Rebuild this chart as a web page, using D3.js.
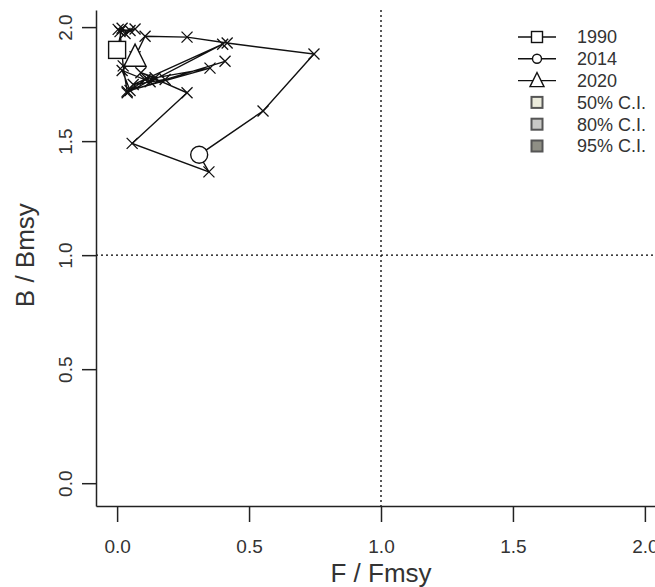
<!DOCTYPE html>
<html>
<head>
<meta charset="utf-8">
<script src="https://cdn.jsdelivr.net/npm/d3@7"></script>
<style>
  html, body { margin: 0; padding: 0; background: #fff; }
  svg { display: block; font-family: "Liberation Sans", Arial, sans-serif; }
</style>
</head>
<body>
<svg id="chart" width="655" height="587"></svg>
<script>
// ---- data ----
const years = [1990,1991,1992,1993,1994,1995,1996,1997,1998,1999,2000,2001,2002,2003,2004,2005,2006,2007,2008,2009,2010,2011,2012,2013,2014,2015,2016,2017,2018,2019,2020];
const fRatio = [0.000,0.019,0.004,0.049,0.030,0.068,0.011,0.023,0.038,0.409,0.182,0.061,0.400,0.125,0.019,0.049,0.352,0.106,0.038,0.144,0.090,0.265,0.057,0.348,0.311,0.553,0.746,0.417,0.265,0.106,0.068];
const bRatio = [1.900,1.995,1.990,1.985,1.972,1.992,1.980,1.830,1.718,1.850,1.770,1.748,1.925,1.760,1.810,1.722,1.820,1.770,1.712,1.778,1.800,1.712,1.490,1.365,1.440,1.632,1.882,1.930,1.956,1.960,1.870];
const xTicks = [0, 0.5, 1, 1.5, 2];
const yTicks = [0, 0.5, 1, 1.5, 2];
const tickLabels = ["0.0", "0.5", "1.0", "1.5", "2.0"];
const legendYears = ["1990", "2014", "2020"];
const legendCI = ["50% C.I.", "80% C.I.", "95% C.I."];
const ciColors = ["#ebebdc", "#c9c9c6", "#8f8f85"];
const refLine = 1;

// ---- scales ----
const svg = d3.select("#chart");
const x = d3.scaleLinear().domain([-0.08, 2.08]).range([96, 666]);
const y = d3.scaleLinear().domain([-0.1, 2.075]).range([506, 10]);

// reference dotted lines
svg.append("line")
  .attr("x1", x(refLine)).attr("x2", x(refLine))
  .attr("y1", y.range()[1]).attr("y2", y.range()[0])
  .attr("stroke", "#000").attr("stroke-width", 1.3).attr("stroke-dasharray", "2,3");
svg.append("line")
  .attr("x1", x.range()[0]).attr("x2", 655)
  .attr("y1", y(refLine)).attr("y2", y(refLine))
  .attr("stroke", "#000").attr("stroke-width", 1.3).attr("stroke-dasharray", "2,3");

// axes
const xAxis = d3.axisBottom(x).tickValues(xTicks).tickSizeInner(16).tickSizeOuter(0)
  .tickPadding(18).tickFormat((d, i) => tickLabels[i]);
const gx = svg.append("g").attr("transform", `translate(0,${y.range()[0]})`).call(xAxis);
gx.select(".domain").attr("stroke", "#222").attr("stroke-width", 1.5);
gx.selectAll(".tick line").attr("stroke", "#222").attr("stroke-width", 1.5);
gx.selectAll(".tick text").attr("font-size", 19).attr("fill", "#333")
  .attr("font-family", "Liberation Sans, Arial, sans-serif");

const yAxis = d3.axisLeft(y).tickValues(yTicks).tickSizeInner(14).tickSizeOuter(0)
  .tickFormat((d, i) => tickLabels[i]);
const gy = svg.append("g").attr("transform", `translate(${x.range()[0]},0)`).call(yAxis);
gy.select(".domain").attr("stroke", "#222").attr("stroke-width", 1.5);
gy.selectAll(".tick line").attr("stroke", "#222").attr("stroke-width", 1.5);
gy.selectAll(".tick text")
  .attr("font-size", 19).attr("fill", "#333")
  .attr("font-family", "Liberation Sans, Arial, sans-serif")
  .attr("text-anchor", "middle").attr("x", null)
  .attr("transform", "translate(-31,0) rotate(-90)")
  .attr("dy", "0.35em");

// axis titles
svg.append("text").attr("x", x(1)).attr("y", 582).attr("text-anchor", "middle")
  .attr("font-size", 26).attr("fill", "#333").text("F / Fmsy");
svg.append("text").attr("transform", `translate(34,${y(1)}) rotate(-90)`).attr("text-anchor", "middle")
  .attr("font-size", 26).attr("fill", "#333").text("B / Bmsy");

// trajectory
const pts = years.map((yr, i) => ({ year: yr, f: fRatio[i], b: bRatio[i] }));
svg.append("path").datum(pts)
  .attr("fill", "none").attr("stroke", "#111").attr("stroke-width", 1.4)
  .attr("d", d3.line().x(d => x(d.f)).y(d => y(d.b)));

const cs = 5.5;
svg.append("g").selectAll("path.cross").data(pts).join("path")
  .attr("class", "cross")
  .attr("d", d => {
    const cx = x(d.f), cy = y(d.b);
    return `M${cx - cs},${cy - cs}L${cx + cs},${cy + cs}M${cx - cs},${cy + cs}L${cx + cs},${cy - cs}`;
  })
  .attr("stroke", "#111").attr("stroke-width", 1.3);

// highlighted years
function drawSymbol(g, type, cx, cy, s) {
  if (type === 0) {
    g.append("rect").attr("x", cx - s).attr("y", cy - s).attr("width", 2 * s).attr("height", 2 * s)
      .attr("fill", "#fff").attr("stroke", "#111").attr("stroke-width", 1.4);
  } else if (type === 1) {
    g.append("circle").attr("cx", cx).attr("cy", cy).attr("r", s)
      .attr("fill", "#fff").attr("stroke", "#111").attr("stroke-width", 1.4);
  } else {
    const h = s * 1.15;
    g.append("path").attr("d", `M${cx},${cy - h}L${cx + s},${cy + h * 0.75}L${cx - s},${cy + h * 0.75}Z`)
      .attr("fill", "#fff").attr("stroke", "#111").attr("stroke-width", 1.4);
  }
}
const marks = svg.append("g");
legendYears.forEach((yr, k) => {
  const p = pts.find(d => d.year === +yr);
  const size = [8.5, 8.5, 11][k];
  drawSymbol(marks, k, x(p.f), y(p.b), size);
});

// legend
const lg = svg.append("g");
const lx = 537, ly0 = 37, step = 21.8;
legendYears.forEach((yr, k) => {
  const cy = ly0 + k * step;
  lg.append("line").attr("x1", lx - 19).attr("x2", lx + 19).attr("y1", cy).attr("y2", cy)
    .attr("stroke", "#111").attr("stroke-width", 1.4);
  drawSymbol(lg, k, lx, cy, [5.5, 4.5, 7][k]);
  lg.append("text").attr("x", 577).attr("y", cy).attr("dy", "0.36em")
    .attr("font-size", 18).attr("fill", "#333").text(yr);
});
legendCI.forEach((lab, k) => {
  const cy = ly0 + (k + 3) * step;
  lg.append("rect").attr("x", lx - 5.5).attr("y", cy - 5.5).attr("width", 11).attr("height", 11)
    .attr("fill", ciColors[k]).attr("stroke", "#555").attr("stroke-width", 2);
  lg.append("text").attr("x", 577).attr("y", cy).attr("dy", "0.36em")
    .attr("font-size", 18).attr("fill", "#333").text(lab);
});
</script>
</body>
</html>
